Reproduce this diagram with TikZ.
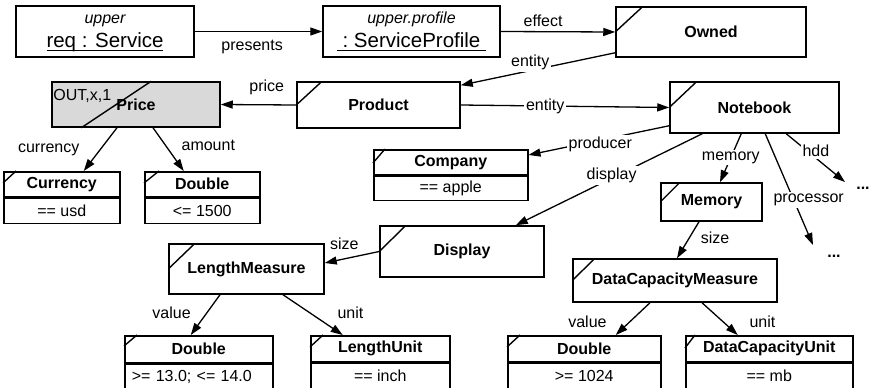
\documentclass[tikz,border=0pt]{standalone}
\usepackage{amsmath}
\usepackage{fontspec}
\setmainfont{Liberation Sans}
\usetikzlibrary{arrows.meta}
\tikzset{
  txt/.style={font=\fontsize{16}{19}\selectfont},
  cls/.style={draw, line width=1.5pt, inner sep=0pt, font=\fontsize{16}{19}\selectfont\bfseries},
  val/.style={draw, line width=1.5pt, inner sep=0pt, font=\fontsize{16}{19}\selectfont},
  conn/.style={line width=1.3pt, -{Triangle[length=12pt,width=8pt]}},
  lbl/.style={txt, inner sep=1pt},
  onl/.style={txt, fill=white, inner sep=2pt},
  slash/.style={line width=1.4pt},
  hdr/.style={font=\fontsize{16}{19}\selectfont\itshape, anchor=base, inner sep=0pt},
  inst/.style={font=\fontsize{20.5}{24}\selectfont, anchor=base, inner sep=0pt},
  dots/.style={font=\fontsize{16}{19}\selectfont\bfseries, inner sep=0pt},
}
\begin{document}
\begin{tikzpicture}[x=1pt,y=-1pt]
\useasboundingbox (0,0) rectangle (871,388);

% top row
\node[cls, minimum width=178pt, minimum height=51pt,
  label={[hdr, yshift=-18.5pt]north:upper},
  label={[inst, yshift=-42.3pt]north:\underline{\smash[b]{req : Service}}}] (req) at (105,31.5) {};
\node[cls, minimum width=177pt, minimum height=51pt,
  label={[hdr, yshift=-18.5pt]north:upper.profile},
  label={[inst, yshift=-42.3pt]north:\underline{\smash[b]{\ :\ ServiceProfile\ }}}] (sp) at (411.5,31.5) {};
\node[cls, minimum width=190pt, minimum height=50pt] (own) at (711,32) {Owned};

% second row
\node[cls, minimum width=163pt, minimum height=46pt] (prod) at (378.5,105) {Product};
\node[cls, fill=gray!30, minimum width=168pt, minimum height=45pt,
  label={[lbl, anchor=north west, xshift=1pt, yshift=-7pt]north west:OUT,x,1}] (price) at (136,104.5) {Price};
\node[cls, minimum width=169pt, minimum height=51pt] (nb) at (754.5,107.5) {Notebook};

% attribute boxes
\node[cls, minimum width=154pt, minimum height=25pt, anchor=north west] (comp) at (373,149) {Company};
\node[val, minimum width=154pt, minimum height=24pt, anchor=north] (compv) at (comp.south) {== apple};
\node[cls, minimum width=116pt, minimum height=25pt, anchor=north west] (cur) at (3,171) {Currency};
\node[val, minimum width=116pt, minimum height=25pt, anchor=north] (curv) at (cur.south) {== usd};
\node[cls, minimum width=115pt, minimum height=25pt, anchor=north west] (dbla) at (144,171) {Double};
\node[val, minimum width=115pt, minimum height=25pt, anchor=north] (dblav) at (dbla.south) {<= 1500};

% third row
\node[cls, minimum width=164pt, minimum height=51pt] (disp) at (462,251.5) {Display};
\node[cls, minimum width=101pt, minimum height=38pt] (mem) at (711.5,202) {Memory};
\node[cls, minimum width=155pt, minimum height=50pt] (lm) at (246.5,269) {LengthMeasure};
\node[cls, minimum width=204pt, minimum height=43pt] (dcm) at (675,280.5) {DataCapacityMeasure};

% bottom row
\node[cls, minimum width=148pt, minimum height=27pt, anchor=north west] (dblb) at (124,335) {Double};
\node[val, minimum width=148pt, minimum height=25pt, anchor=north, text width=134pt, align=left, inner xsep=7pt] (dblbv) at (dblb.south) {>= 13.0; <= 14.0};
\node[cls, minimum width=139pt, minimum height=26pt, anchor=north west] (lu) at (310,335) {LengthUnit};
\node[val, minimum width=139pt, minimum height=25pt, anchor=north] (luv) at (lu.south) {== inch};
\node[cls, minimum width=153pt, minimum height=26pt, anchor=north west] (dblc) at (507,335) {Double};
\node[val, minimum width=153pt, minimum height=25pt, anchor=north] (dblcv) at (dblc.south) {>= 1024};
\node[cls, minimum width=167pt, minimum height=26pt, anchor=north west] (dcu) at (685,335) {DataCapacityUnit};
\node[val, minimum width=167pt, minimum height=25pt, anchor=north] (dcuv) at (dcu.south) {== mb};

% continuation marks
\node[dots] (dotsp) at (834,256) {...};
\node[dots] (dotsh) at (863,188) {...};
\coordinate (pe) at (813,245);
\coordinate (he) at (845,182);

% slashes
\draw[slash] (own.west) -- ++(27,-25);
\draw[slash] (prod.west) -- ++(25,-23);
\draw[slash] (nb.west) -- ++(27,-25.5);
\draw[slash] (disp.west) -- ++(26,-25.5);
\draw[slash] (mem.west) -- ++(19,-19);
\draw[slash] (lm.west) -- ++(26,-25);
\draw[slash] (dcm.west) -- ++(22,-21.5);
\draw[slash] ([xshift=30pt]price.south west) -- ([xshift=100pt]price.north west);
\draw[slash] ([yshift=-14pt]comp.north west) -- ++(12,-14);
\draw[slash] ([yshift=-12pt]cur.north west) -- ++(13,-12);
\draw[slash] ([yshift=-12pt]dbla.north west) -- ++(15,-12);
\draw[slash] ([yshift=-11pt]dblb.north west) -- ++(13,-11);
\draw[slash] ([yshift=-12pt]lu.north west) -- ++(13,-12);
\draw[slash] ([yshift=-12pt]dblc.north west) -- ++(13,-12);
\draw[slash] ([yshift=-13pt]dcu.north west) -- ++(10,-13);

% connectors
\draw[conn] (req.east) -- node[lbl, pos=0.45, yshift=-15pt]{presents} (sp.west);
\draw[conn] (sp.east) -- node[lbl, pos=0.37, yshift=11pt]{effect} (own.west);
\draw[conn] ([yshift=5pt]own.south west) -- node[onl, pos=0.55, yshift=8pt]{entity} ([yshift=-4pt]prod.north east);
\draw[conn] (prod.west) -- node[lbl, pos=0.39, yshift=17pt]{price} (price.east);
\draw[conn] (prod.east) -- node[onl, pos=0.405]{entity} (nb.west);
\draw[conn] ([yshift=8pt]nb.south west) -- node[onl, pos=0.49, yshift=-4pt]{producer} ([yshift=-6pt]comp.north east);
\draw[conn] ([xshift=33pt]nb.south west) -- node[onl, pos=0.486, yshift=3pt]{display} ([xshift=-29pt]disp.north east);
\draw[conn] ([xshift=72pt]nb.south west) -- node[onl, pos=0.49]{memory} ([xshift=8.5pt]mem.north);
\draw[conn] ([xshift=96pt]nb.south west) -- node[onl, pos=0.646, xshift=12.6pt, yshift=5.3pt]{processor} (pe);
\draw[conn] ([xshift=117pt]nb.south west) -- node[onl, pos=0.437, xshift=4pt, yshift=4pt]{hdd} (he);
\draw[conn] (disp.west) -- node[lbl, pos=0.64, yshift=14.6pt]{size} ([yshift=6pt]lm.east);
\draw[conn] ([xshift=-12.5pt]mem.south) -- node[lbl, pos=0.43, xshift=25.5pt]{size} ([xshift=2pt]dcm.north);
\draw[conn] ([xshift=-19pt]price.south) -- node[lbl, pos=0.52, xshift=-51pt]{currency} ([xshift=22pt]cur.north);
\draw[conn] ([xshift=17pt]price.south) -- node[lbl, pos=0.41, xshift=42.7pt]{amount} ([xshift=-18.5pt]dbla.north);
\draw[conn] ([xshift=-26.5pt]lm.south) -- node[lbl, pos=0.46, xshift=-35pt]{value} ([xshift=-8pt]dblb.north);
\draw[conn] ([xshift=36.5pt]lm.south) -- node[lbl, pos=0.46, xshift=40pt]{unit} ([xshift=-37.5pt]lu.north);
\draw[conn] ([xshift=-25pt]dcm.south) -- node[lbl, pos=0.6, xshift=-42pt]{value} ([xshift=31.5pt]dblc.north);
\draw[conn] ([xshift=27pt]dcm.south) -- node[lbl, pos=0.6, xshift=39pt]{unit} ([xshift=-31.5pt]dcu.north);
\end{tikzpicture}
\end{document}
